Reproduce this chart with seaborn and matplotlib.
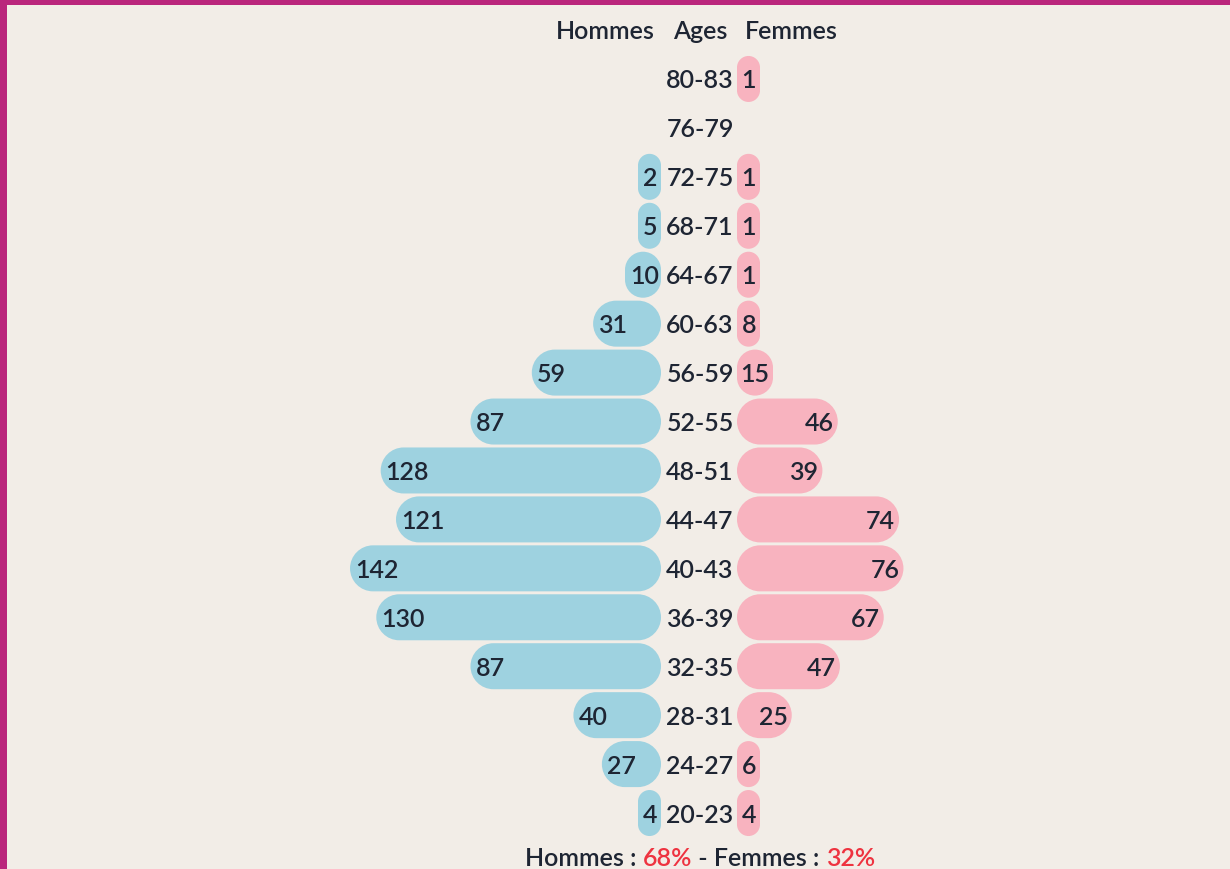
import matplotlib.pyplot as plt
import matplotlib.patches as mpatches
import matplotlib.transforms as mtransforms
from matplotlib.path import Path
import pandas as pd
import seaborn as sns

# data, top row first
ages = ["80-83", "76-79", "72-75", "68-71", "64-67", "60-63", "56-59", "52-55",
        "48-51", "44-47", "40-43", "36-39", "32-35", "28-31", "24-27", "20-23"]
hommes = [0, 0, 2, 5, 10, 31, 59, 87, 128, 121, 142, 130, 87, 40, 27, 4]
femmes = [1, 0, 1, 1, 1, 8, 15, 46, 39, 74, 76, 67, 47, 25, 6, 4]
part_hommes = "68%"
part_femmes = "32%"

W, H = 1230, 870
BG = "#F2EDE7"
BORDER = "#BA267C"
BLUE = "#9ED2E0"
PINK = "#F8B3BF"
INK = "#1E2533"
RED = "#EE3340"
FS = 18
WEIGHT = "semibold"

PX_UNIT = 2.19          # pixels per person
AX_W = 361              # axes width in px
TOP, BOTTOM = 55.5, 838.5
ROW_PX = (BOTTOM - TOP) / len(ages)
BASE = 8.5 / ROW_PX     # baseline sits a bit below the row centre

sns.set_style("white")
plt.rcParams["font.family"] = ["Lato", "DejaVu Sans"]

fig = plt.figure(figsize=(W / 100, H / 100), dpi=100)
fig.patch.set_facecolor(BG)
# magenta frame on the left and top
fig.patches.append(mpatches.Rectangle((0, 0), 7 / W, 1, transform=fig.transFigure,
                                      fc=BORDER, ec="none", zorder=10))
fig.patches.append(mpatches.Rectangle((0, 1 - 6 / H), 1, 6 / H, transform=fig.transFigure,
                                      fc=BORDER, ec="none", zorder=10))

ax_h = fig.add_axes([(661 - AX_W) / W, 1 - BOTTOM / H, AX_W / W, (BOTTOM - TOP) / H])
ax_f = fig.add_axes([737 / W, 1 - BOTTOM / H, AX_W / W, (BOTTOM - TOP) / H])


def bar_length(v):
    # a bar is never narrower than its own label
    if v == 0:
        return 0
    min_px = 10 + 13 * len(str(v))
    return max(v, min_px / PX_UNIT)


def pill(x, y, w, h, rx, ry):
    k = 0.5523
    verts = [
        (x + rx, y), (x + w - rx, y),
        (x + w - rx + k * rx, y), (x + w, y + ry - k * ry), (x + w, y + ry),
        (x + w, y + h - ry),
        (x + w, y + h - ry + k * ry), (x + w - rx + k * rx, y + h), (x + w - rx, y + h),
        (x + rx, y + h),
        (x + rx - k * rx, y + h), (x, y + h - ry + k * ry), (x, y + h - ry),
        (x, y + ry),
        (x, y + ry - k * ry), (x + rx - k * rx, y), (x + rx, y),
        (x + rx, y),
    ]
    codes = ([Path.MOVETO, Path.LINETO] + [Path.CURVE4] * 3 + [Path.LINETO]
             + [Path.CURVE4] * 3 + [Path.LINETO] + [Path.CURVE4] * 3
             + [Path.LINETO] + [Path.CURVE4] * 3 + [Path.CLOSEPOLY])
    return Path(verts, codes)


def round_bars(ax, color):
    for p in list(ax.patches):
        x, y, w, h = p.get_x(), p.get_y(), p.get_width(), p.get_height()
        p.remove()
        if w <= 0:
            continue
        r_px = min(w * PX_UNIT, h * ROW_PX) / 2
        ax.add_patch(mpatches.PathPatch(pill(x, y, w, h, r_px / PX_UNIT, r_px / ROW_PX),
                                        fc=color, ec="none"))


for ax, vals, color in [(ax_h, hommes, BLUE), (ax_f, femmes, PINK)]:
    df = pd.DataFrame({"age": ages, "len": [bar_length(v) for v in vals]})
    sns.barplot(data=df, x="len", y="age", order=ages, orient="h",
                color=color, width=0.94, ax=ax)
    round_bars(ax, color)
    ax.set_ylim(len(ages) - 0.5, -0.5)
    ax.axis("off")
    ax.patch.set_alpha(0)

ax_h.set_xlim(AX_W / PX_UNIT, 0)
ax_f.set_xlim(0, AX_W / PX_UNIT)

txt = dict(fontsize=FS, color=INK, fontweight=WEIGHT, va="baseline")
for i, (vh, vf) in enumerate(zip(hommes, femmes)):
    if vh:
        ax_h.text(bar_length(vh) - 5 / PX_UNIT, i + BASE, str(vh), ha="left", **txt)
    if vf:
        ax_f.text(bar_length(vf) - 4 / PX_UNIT, i + BASE, str(vf), ha="right", **txt)

mid = mtransforms.blended_transform_factory(fig.transFigure, ax_h.transData)
for i, a in enumerate(ages):
    fig.text(700 / W, i + BASE, a, transform=mid, ha="center", **txt)

# header
yh = 1 - 39 / H
fig.text(655 / W, yh, "Hommes", ha="right", **txt)
fig.text(700 / W, yh, "Ages", ha="center", **txt)
fig.text(745 / W, yh, "Femmes", ha="left", **txt)

# footer, coloured pieces laid out one after another
yf = 1 - 866 / H
pieces = [("Hommes : ", INK), (part_hommes, RED), (" - Femmes : ", INK), (part_femmes, RED)]
renderer = fig.canvas.get_renderer()
texts, x = [], 0
for s, c in pieces:
    t = fig.text(x, yf, s, ha="left", va="baseline", fontsize=FS,
                 fontweight=WEIGHT, color=c)
    w = t.get_window_extent(renderer).width / W
    texts.append((t, x))
    x += w
start = 700 / W - x / 2
for t, off in texts:
    t.set_x(start + off)

fig.savefig("out.png", dpi=100, facecolor=BG)
